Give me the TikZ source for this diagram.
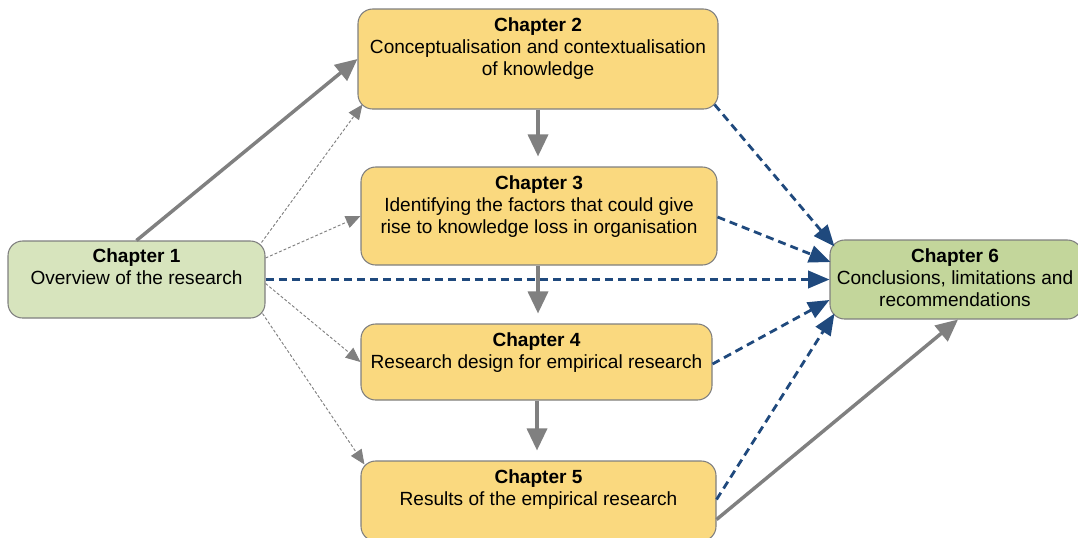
\documentclass[tikz,border=0pt]{standalone}
\usepackage{fontspec}
\setmainfont{Liberation Sans}
\usetikzlibrary{arrows.meta,calc}

\definecolor{chgreen}{HTML}{D7E4BD}
\definecolor{chyellow}{HTML}{FAD97F}
\definecolor{chgreendark}{HTML}{C3D69B}
\definecolor{linkblue}{HTML}{1F497D}
\definecolor{linkgray}{HTML}{808080}
\definecolor{boxedge}{HTML}{7F7F7F}

\tikzset{
  chapbox/.style={draw=boxedge, line width=0.8pt, rounded corners=11pt,
    inner sep=0pt},
  % the base anchor of a multi-line node sits on its last line
  chaptext/.style={anchor=base, align=center, inner sep=0pt,
    font=\fontsize{14.3}{16.5}\selectfont},
  mainflow/.style={draw=linkgray, line width=2.6pt,
    -{Triangle[length=16.5pt,width=15pt]}},
  weaklink/.style={draw=linkgray, line width=0.7pt, dash pattern=on 2.2pt off 1.5pt,
    -{Triangle[length=11pt,width=9.5pt]}},
  feedlink/.style={draw=linkblue, line width=2.1pt, dash pattern=on 6pt off 3.8pt,
    -{Triangle[length=16pt,width=13pt]}},
}

\begin{document}
\begin{tikzpicture}[x=0.75pt, y=-0.75pt]
  \useasboundingbox (0,0) rectangle (1078,537);
  \clip (0,0) rectangle (1078,537);

  % chapter boxes
  \node[chapbox, fill=chgreen, minimum width=257*0.75pt, minimum height=77*0.75pt]
    (c1) at (136.5,279.5) {};
  \node[chapbox, fill=chyellow, minimum width=360*0.75pt, minimum height=100*0.75pt]
    (c2) at (538,59) {};
  \node[chapbox, fill=chyellow, minimum width=356*0.75pt, minimum height=98*0.75pt]
    (c3) at (539,216) {};
  \node[chapbox, fill=chyellow, minimum width=351*0.75pt, minimum height=76*0.75pt]
    (c4) at (536.5,362) {};
  \node[chapbox, fill=chyellow, minimum width=355*0.75pt, minimum height=80*0.75pt]
    (c5) at (538.5,501) {};
  \node[chapbox, fill=chgreendark, minimum width=252*0.75pt, minimum height=79*0.75pt]
    (c6) at (956,279.5) {};

  % chapter titles (offset = first baseline + 22 px per further line)
  \node[chaptext] (t1) at ([shift={(0,44.4)}]c1.north)
    {\textbf{Chapter 1}\\Overview of the research};
  \node[chaptext] (t2) at ([shift={(0,66.6)}]c2.north)
    {\textbf{Chapter 2}\\Conceptualisation and contextualisation\\of knowledge};
  \node[chaptext] (t3) at ([shift={(0,66.6)}]c3.north)
    {\textbf{Chapter 3}\\Identifying the factors that could give\\rise to knowledge loss in organisation};
  \node[chaptext] (t4) at ([shift={(0,44.6)}]c4.north)
    {\textbf{Chapter 4}\\Research design for empirical research};
  \node[chaptext] (t5) at ([shift={(0,44.6)}]c5.north)
    {\textbf{Chapter 5}\\Results of the empirical research};
  \node[chaptext] (t6) at ([shift={(-1,66.6)}]c6.north)
    {\textbf{Chapter 6}\\Conclusions, limitations and\\recommendations};

  % main sequence
  \draw[mainflow] (c1.north) -- (c2.west);
  \draw[mainflow, shorten >=7.5pt] (c2.south) -- (c2.south |- c3.north);
  \draw[mainflow, shorten >=7.5pt] ([shift={(-1,0)}]c3.south) -- ([shift={(-1,0)}]c3.south |- c4.north);
  \draw[mainflow, shorten >=7.5pt] ([shift={(0.5,0)}]c4.south) -- ([shift={(0.5,0)}]c4.south |- c5.north);
  \draw[mainflow] ([shift={(0,18.5)}]c5.east) -- ([shift={(2,0)}]c6.south);

  % links from the overview chapter
  \draw[weaklink] ([shift={(-4,2)}]c1.north east) -- ([shift={(5,-5)}]c2.south west);
  \draw[weaklink] ([shift={(0,-21.5)}]c1.east) -- (c3.west);
  \draw[weaklink] ([shift={(0,4)}]c1.east) -- (c4.west);
  \draw[weaklink] ([shift={(-3,-5)}]c1.south east) -- ([shift={(4,4)}]c5.north west);

  % links into the conclusions
  \draw[feedlink] (c1.east) -- (c6.west);
  \draw[feedlink] ([shift={(-4,-5)}]c2.south east) -- ([shift={(5,7)}]c6.north west);
  \draw[feedlink] ([shift={(0,1)}]c3.east) -- ([shift={(1,-17.5)}]c6.west);
  \draw[feedlink] ([shift={(0,2)}]c4.east) -- ([shift={(0,20.5)}]c6.west);
  \draw[feedlink] ([shift={(0,-1.5)}]c5.east) -- ([shift={(5,-6)}]c6.south west);
\end{tikzpicture}
\end{document}
